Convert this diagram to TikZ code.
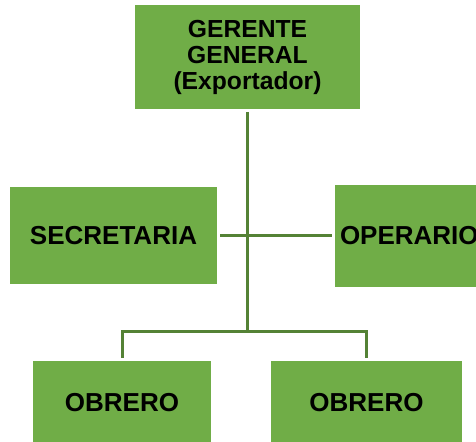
\documentclass[tikz,border=0pt]{standalone}
\usepackage{fontspec}
\setmainfont{Liberation Sans}
\definecolor{boxgreen}{HTML}{70AD47}
\definecolor{linegreen}{HTML}{548235}

\begin{document}
\begin{tikzpicture}[x=0.75pt, y=-0.75pt,
    cargo/.style={fill=boxgreen, inner sep=0pt, outer sep=2.25pt, align=center,
      font=\bfseries\fontsize{19.5}{23}\selectfont},
    enlace/.style={draw=linegreen, line width=2.25pt}]
  \clip (0,0) rectangle (476,442);

  % cargos
  \node[cargo, minimum width=168.75pt, minimum height=78pt,
    font=\bfseries\fontsize{18.5}{19.5}\selectfont] (gerente) at (247.5,57) {GERENTE\\GENERAL\\(Exportador)};
  \node[cargo, minimum width=155.25pt, minimum height=72.75pt] (secretaria) at (113.5,236) {SECRETARIA};
  \node[cargo, anchor=west, minimum height=76.5pt, inner xsep=3.75pt, text width=150pt, align=left] (operario) at (332,236) {OPERARIO};
  \node[cargo, minimum width=133.5pt, minimum height=63pt] (obrero1) at (122,403) {OBRERO};
  \node[cargo, minimum width=143.25pt, minimum height=63pt] (obrero2) at (366.5,403) {OBRERO};

  % lineas
  \coordinate (rama) at (247.5,332);
  \draw[enlace] (gerente) -- (rama);
  \draw[enlace] (secretaria) -- (operario);
  \draw[enlace] (obrero1) |- (rama) -| (obrero2);
\end{tikzpicture}
\end{document}
